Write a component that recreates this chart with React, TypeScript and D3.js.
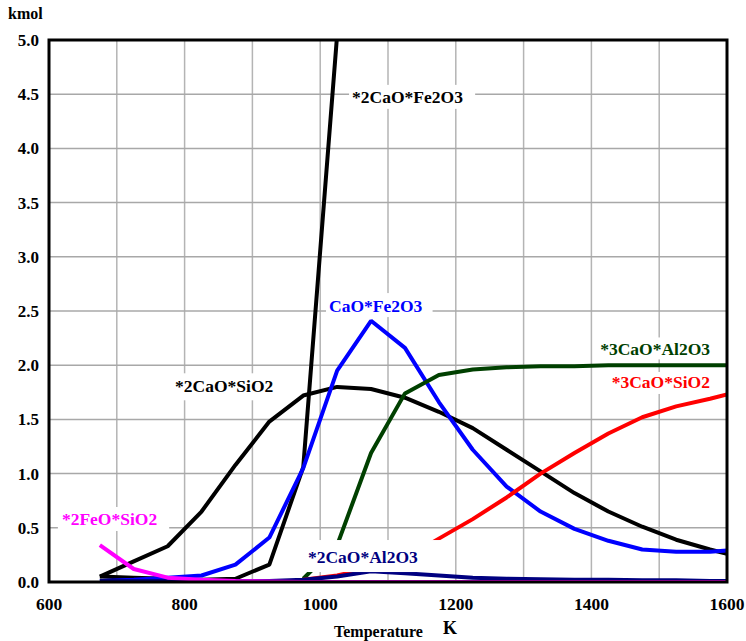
import React from 'react';
import * as d3 from 'd3';

// temperature samples (K)
const temps = [675, 725, 775, 825, 875, 925, 975, 1025, 1075, 1125, 1175, 1225, 1275, 1325, 1375, 1425, 1475, 1525, 1575, 1600];

// kmol, null = not present
const c2CaO_Fe2O3 = [0.05, 0.04, 0.03, 0.02, 0.03, 0.16, 1.06, 5.05, null, null, null, null, null, null, null, null, null, null, null, null];
const c2CaO_SiO2 = [0.05, 0.19, 0.33, 0.65, 1.08, 1.48, 1.72, 1.80, 1.78, 1.70, 1.57, 1.42, 1.22, 1.02, 0.82, 0.65, 0.51, 0.39, 0.30, 0.26];
const cCaO_Fe2O3 = [0.01, 0.02, 0.04, 0.06, 0.16, 0.41, 1.05, 1.95, 2.41, 2.16, 1.66, 1.22, 0.88, 0.65, 0.49, 0.38, 0.30, 0.28, 0.28, 0.29];
const c3CaO_Al2O3 = [null, null, null, null, null, null, 0.03, 0.34, 1.19, 1.74, 1.91, 1.96, 1.98, 1.99, 1.99, 2.0, 2.0, 2.0, 2.0, 2.0];
const c3CaO_SiO2 = [null, null, null, null, null, null, 0.02, 0.06, 0.13, 0.22, 0.40, 0.58, 0.78, 1.0, 1.19, 1.37, 1.52, 1.62, 1.69, 1.73];
const c2CaO_Al2O3 = [0.01, 0.01, 0.01, 0.01, 0.01, 0.01, 0.02, 0.05, 0.10, 0.08, 0.06, 0.04, 0.03, 0.025, 0.02, 0.02, 0.015, 0.015, 0.01, 0.01];
const c2FeO_SiO2 = [0.34, 0.12, 0.04, 0.02, 0.01, 0.005, 0, 0, 0, 0, 0, 0, 0, 0, 0, 0, 0, 0, 0, 0];

const xTicks = [600, 800, 1000, 1200, 1400, 1600];
const yTicks = [0, 0.5, 1, 1.5, 2, 2.5, 3, 3.5, 4, 4.5, 5];

const series = [
  { name: '*2CaO*Fe2O3', values: c2CaO_Fe2O3, color: '#000000' },
  { name: '*2CaO*SiO2', values: c2CaO_SiO2, color: '#000000' },
  { name: 'CaO*Fe2O3', values: cCaO_Fe2O3, color: '#0000ff' },
  { name: '*3CaO*Al2O3', values: c3CaO_Al2O3, color: '#004000' },
  { name: '*3CaO*SiO2', values: c3CaO_SiO2, color: '#ff0000' },
  { name: '*2CaO*Al2O3', values: c2CaO_Al2O3, color: '#000080' },
  { name: '*2FeO*SiO2', values: c2FeO_SiO2, color: '#ff00ff' },
];

// label anchors in data units (left edge x, baseline y); white box padding l/r/t/b
const labels = [
  { text: '*2CaO*Fe2O3', t: 1047, v: 4.42, color: '#000000', pad: [3, 12, 2, 2] },
  { text: 'CaO*Fe2O3', t: 1013, v: 2.49, color: '#0000ff', pad: [3, 10, 3, 1] },
  { text: '*2CaO*SiO2', t: 786, v: 1.75, color: '#000000', pad: [4, 6, 3, 4] },
  { text: '*3CaO*Al2O3', t: 1413, v: 2.09, color: '#004000', pad: [3, 3, 2, 0] },
  { text: '*3CaO*SiO2', t: 1430, v: 1.79, color: '#ff0000', pad: [3, 3, 0, 2] },
  { text: '*2FeO*SiO2', t: 619, v: 0.526, color: '#ff00ff', pad: [4, 12, 2, 2] },
  { text: '*2CaO*Al2O3', t: 982, v: 0.175, color: '#000080', pad: [4, 30, 7, 5] },
];

const App = () => {
  const svgRef = React.useRef<SVGSVGElement | null>(null);
  const width = 746;
  const height = 641;

  React.useEffect(() => {
    const svg = d3.select(svgRef.current);
    svg.selectAll('*').remove();

    const x = d3.scaleLinear().domain([600, 1600]).range([49, 727]);
    const y = d3.scaleLinear().domain([0, 5]).range([582, 40]);
    const font = 'Liberation Serif';

    svg.append('clipPath').attr('id', 'plotclip')
      .append('rect')
      .attr('x', x(600)).attr('y', y(5))
      .attr('width', x(1600) - x(600)).attr('height', y(0) - y(5));

    // grid
    const grid = svg.append('g');
    d3.range(700, 1600, 100).forEach((t) => {
      grid.append('line')
        .attr('x1', x(t)).attr('x2', x(t))
        .attr('y1', y(0)).attr('y2', y(5))
        .attr('stroke', '#b4b4b4').attr('stroke-width', 1.5);
    });
    yTicks.slice(1, -1).forEach((v) => {
      grid.append('line')
        .attr('x1', x(600)).attr('x2', x(1600))
        .attr('y1', y(v)).attr('y2', y(v))
        .attr('stroke', '#a8a8a8').attr('stroke-width', 1.5);
    });

    // curves
    const lines = svg.append('g').attr('clip-path', 'url(#plotclip)');
    series.forEach((s) => {
      const pts = temps.map((t, i) => [t, s.values[i]] as [number, number | null]);
      const line = d3.line<[number, number | null]>()
        .defined((d) => d[1] !== null)
        .x((d) => x(d[0]))
        .y((d) => y(d[1] as number));
      lines.append('path')
        .attr('d', line(pts))
        .attr('fill', 'none')
        .attr('stroke', s.color)
        .attr('stroke-width', 4)
        .attr('stroke-linejoin', 'bevel');
    });

    // labels with white boxes
    labels.forEach((l) => {
      const g = svg.append('g');
      const txt = g.append('text')
        .attr('x', x(l.t)).attr('y', y(l.v))
        .attr('font-family', font)
        .attr('font-weight', 'bold')
        .attr('font-size', 17.5)
        .attr('fill', l.color)
        .text(l.text);
      const bb = (txt.node() as SVGTextElement).getBBox();
      const [pl, pr, pt, pb] = l.pad;
      g.insert('rect', 'text')
        .attr('x', bb.x - pl).attr('y', bb.y - pt)
        .attr('width', bb.width + pl + pr).attr('height', bb.height + pt + pb)
        .attr('fill', '#ffffff');
    });

    // frame
    svg.append('rect')
      .attr('x', x(600)).attr('y', y(5))
      .attr('width', x(1600) - x(600)).attr('height', y(0) - y(5))
      .attr('fill', 'none').attr('stroke', '#000').attr('stroke-width', 3);

    const txt = (xx: number, yy: number, s: string, size: number, anchor = 'start') =>
      svg.append('text')
        .attr('x', xx).attr('y', yy)
        .attr('text-anchor', anchor)
        .attr('font-family', font).attr('font-weight', 'bold').attr('font-size', size)
        .text(s);

    // ticks
    yTicks.forEach((v) => txt(39, y(v) + 6, v.toFixed(1), 17, 'end'));
    xTicks.forEach((t) => txt(x(t), 610, String(t), 17.5, 'middle'));

    txt(8, 19, 'kmol', 16);
    txt(334, 637, 'Temperature', 16);
    txt(443, 634, 'K', 18);
  }, []);

  return (
    <svg ref={svgRef} width={width} height={height}
      style={{ position: 'absolute', left: 0, top: 0, background: '#fff' }} />
  );
};

export default App;
